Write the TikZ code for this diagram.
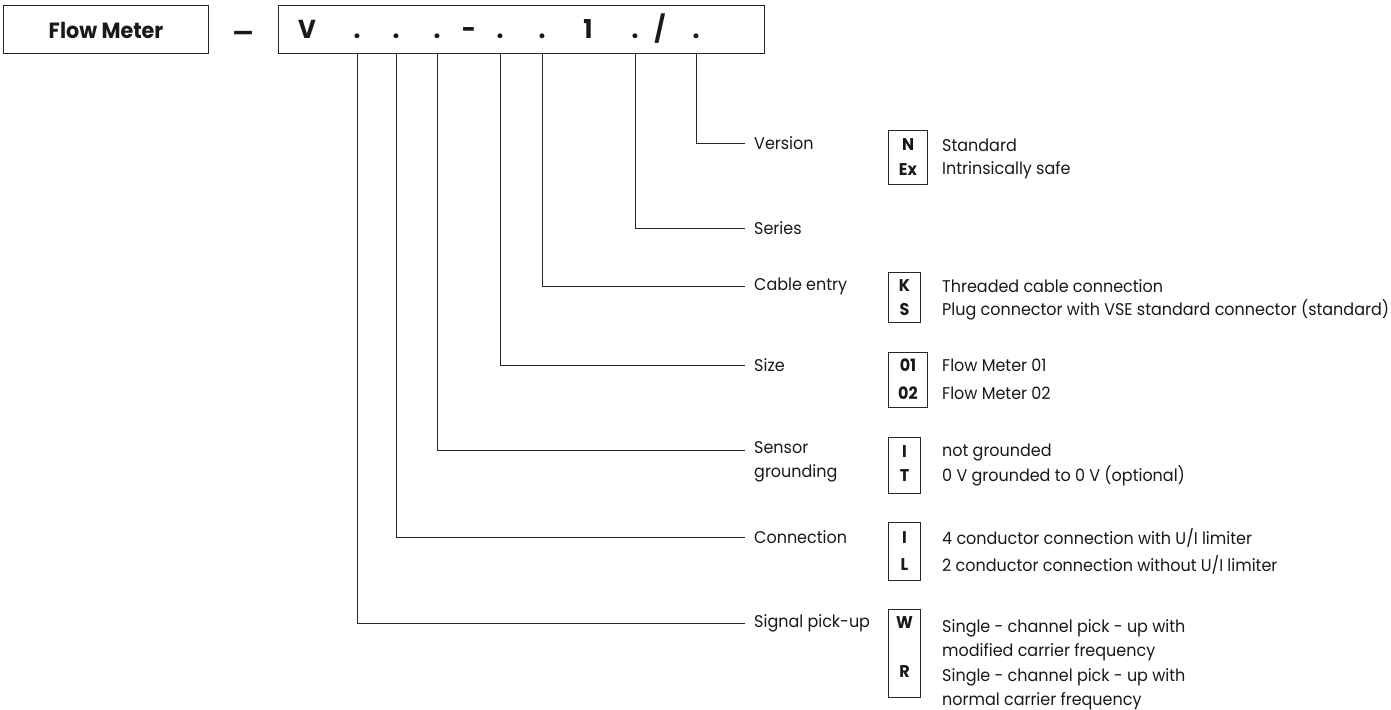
\documentclass[tikz,border=0pt]{standalone}
\usepackage{fontspec}
\setmainfont{Poppins}[FakeStretch=0.94]
\usetikzlibrary{positioning}
\tikzset{
  frame/.style     = {draw=black!85, line width=1pt, inner sep=0pt},
  codechar/.style  = {font=\bfseries\fontsize{26}{28}\selectfont, inner sep=0pt, anchor=base},
  leader/.style    = {draw=black!85, line width=1pt},
  fieldlabel/.style= {font=\fontsize{17}{24}\selectfont, anchor=west, inner xsep=9pt,
                      inner ysep=0pt, align=left},
  keybox/.style    = {frame, anchor=north west},
  keychar/.style   = {font=\bfseries\fontsize{17}{18}\selectfont, inner sep=0pt},
  keytext/.style   = {font=\fontsize{17}{24}\selectfont, anchor=west, inner sep=0pt, align=left},
}

\begin{document}
\begin{tikzpicture}[x=1pt,y=-1pt,every node/.style={text=black!90}]
  \useasboundingbox (0,0) rectangle (1391,709);

  % type code header
  \node[frame, minimum width=205pt, minimum height=48pt,
        font=\bfseries\fontsize{22}{24}\selectfont] (fm) at (106,30) {Flow Meter};
  \node[font=\bfseries\fontsize{24}{26}\selectfont, inner sep=0pt] (dash) at (243,36) {—};
  \node[frame, minimum width=486pt, minimum height=48pt] (code) at (521,30) {};

  \node[codechar] (cV)  at (307,39) {V};
  \node[codechar] (d1)  at (357,39) {.};
  \node[codechar] (d2)  at (396,39) {.};
  \node[codechar] (d3)  at (437,39) {.};
  \node[codechar] (hy)  at (469,39) {-};
  \node[codechar] (d4)  at (500,39) {.};
  \node[codechar] (d5)  at (542,39) {.};
  \node[codechar] (one) at (588,39) {1};
  \node[codechar] (d6)  at (635,39) {.};
  \node[codechar] (sl)  at (660,39) {/};
  \node[codechar] (d7)  at (696,39) {.};

  % field names
  \node[fieldlabel] (lVer) at (745,143) {Version};
  \node[fieldlabel] (lSer) at (745,228) {Series};
  \node[fieldlabel] (lCab) at (745,286) {Cable entry};
  \node[fieldlabel] (lSiz) at (745,365) {Size};
  \node[fieldlabel] (lSen) at (745,462) {Sensor\\grounding};
  \node[fieldlabel] (lCon) at (745,537) {Connection};
  \node[fieldlabel] (lSig) at (745,623) {Signal pick-up};

  % leaders from the code positions
  \draw[leader] (d7 |- code.south) |- (lVer.west);
  \draw[leader] (d6 |- code.south) |- (lSer.west);
  \draw[leader] (d5 |- code.south) |- (lCab.west);
  \draw[leader] (d4 |- code.south) |- (lSiz.west);
  \draw[leader] (d3 |- code.south) |- ([yshift=12pt]lSen.west);
  \draw[leader] (d2 |- code.south) |- (lCon.west);
  \draw[leader] (d1 |- code.south) |- (lSig.west);

  % option keys
  \node[keybox, minimum width=39pt, minimum height=54pt] (kVer) at (888,130) {};
  \node[keychar] (kN)  at (kVer.center |- 0,145) {N};
  \node[keychar] (kEx) at (kVer.center |- 0,170) {Ex};
  \node[keytext] (tN)  at (942,145) {Standard};
  \node[keytext] (tEx) at (942,170) {Intrinsically safe};

  \node[keybox, minimum width=32pt, minimum height=50pt] (kCab) at (888,272) {};
  \node[keychar] (kK) at (kCab.center |- 0,286) {K};
  \node[keychar] (kS) at (kCab.center |- 0,310) {S};
  \node[keytext] (tK) at (942,286) {Threaded cable connection};
  \node[keytext] (tS) at (942,310) {Plug connector with VSE standard connector (standard)};

  \node[keybox, minimum width=39pt, minimum height=55pt] (kSiz) at (888,352) {};
  \node[keychar] (k01) at (kSiz.center |- 0,365) {01};
  \node[keychar] (k02) at (kSiz.center |- 0,393) {02};
  \node[keytext] (t01) at (942,365) {Flow Meter 01};
  \node[keytext] (t02) at (942,393) {Flow Meter 02};

  \node[keybox, minimum width=32pt, minimum height=56pt] (kSen) at (888,437) {};
  \node[keychar] (kI) at (kSen.center |- 0,452) {I};
  \node[keychar] (kT) at (kSen.center |- 0,476) {T};
  \node[keytext] (tI) at (942,452) {not grounded};
  \node[keytext] (tT) at (942,476) {0 V grounded to 0 V (optional)};

  \node[keybox, minimum width=32pt, minimum height=58pt] (kCon) at (888,522) {};
  \node[keychar] (kI2) at (kCon.center |- 0,538) {I};
  \node[keychar] (kL)  at (kCon.center |- 0,565) {L};
  \node[keytext] (tI2) at (942,538) {4 conductor connection with U/I limiter};
  \node[keytext] (tL)  at (942,565) {2 conductor connection without U/I limiter};

  \node[keybox, minimum width=32pt, minimum height=88pt] (kSig) at (888,609) {};
  \node[keychar] (kW) at (kSig.center |- 0,623) {W};
  \node[keychar] (kR) at (kSig.center |- 0,672) {R};
  \node[keytext] (tW) at (942,640) {Single - channel pick - up with\\modified carrier frequency};
  \node[keytext] (tR) at (942,689) {Single - channel pick - up with\\normal carrier frequency};
\end{tikzpicture}
\end{document}
